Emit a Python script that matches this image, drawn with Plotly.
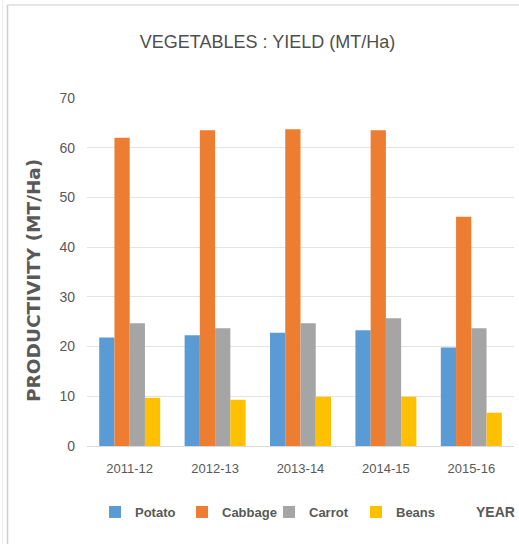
import plotly.graph_objects as go

# Vegetable productivity by season (MT/Ha)
years = ["2011-12", "2012-13", "2013-14", "2014-15", "2015-16"]
potato = [21.8, 22.3, 22.8, 23.3, 19.8]
cabbage = [62.0, 63.5, 63.7, 63.5, 46.1]
carrot = [24.7, 23.7, 24.7, 25.7, 23.7]
beans = [9.7, 9.3, 9.9, 9.9, 6.7]

series_names = ["Potato", "Cabbage", "Carrot", "Beans"]
series_values = [potato, cabbage, carrot, beans]
series_colors = ["#5B9BD5", "#ED7D31", "#A5A5A5", "#FFC000"]

SANS = "Liberation Sans, Arial, sans-serif"
TEXT_GREY = "#595959"

W, H = 519, 544
M_L, M_R, M_T, M_B = 87, 5, 98, 98

fig = go.Figure()
for name, vals, col in zip(series_names, series_values, series_colors):
    fig.add_trace(go.Bar(x=years, y=vals, name=name, marker_color=col,
                         marker_line_width=0))

# helpers to express pixel positions in paper units (frame decoration only)
pw = W - M_L - M_R
ph = H - M_T - M_B
def px_x(x):
    return (x - M_L) / pw
def px_y(y):
    return 1 - (y - M_T) / ph

frame = dict(type="line", xref="paper", yref="paper", layer="below")
fig.add_shape(**frame, x0=px_x(7.5), x1=px_x(7.5), y0=px_y(5), y1=px_y(H),
              line=dict(color="#d0d0d0", width=1.5))
fig.add_shape(**frame, x0=px_x(2.5), x1=px_x(2.5), y0=px_y(0), y1=px_y(H),
              line=dict(color="#ececec", width=1))
fig.add_shape(**frame, x0=px_x(7.5), x1=px_x(W), y0=px_y(5), y1=px_y(5),
              line=dict(color="#dcdcdc", width=1.5))

fig.add_annotation(text="PRODUCTIVITY (MT/Ha)", textangle=-90,
                   xref="paper", yref="paper", x=px_x(33), y=px_y(281),
                   xanchor="center", yanchor="middle", showarrow=False,
                   font=dict(family="DejaVu Sans", size=18.5, color=TEXT_GREY,
                             weight="bold"))
fig.add_annotation(text="<b>YEAR</b>", xref="paper", yref="paper",
                   x=px_x(517), y=px_y(512), xanchor="right", yanchor="middle",
                   showarrow=False,
                   font=dict(family=SANS, size=14, color=TEXT_GREY))

fig.update_layout(
    width=W, height=H,
    margin=dict(l=M_L, r=M_R, t=M_T, b=M_B, autoexpand=False),
    paper_bgcolor="white", plot_bgcolor="white",
    barmode="group", bargap=0.286, bargroupgap=0,
    title=dict(text="VEGETABLES : YIELD (MT/Ha)", xref="container",
               yref="container", x=267.5 / W, y=1 - 42 / H,
               xanchor="center", yanchor="middle",
               font=dict(family=SANS, size=18, color="#4f4f4f")),
    showlegend=True,
    legend=dict(orientation="h", xref="paper", yref="paper",
                x=px_x(95), y=px_y(512), xanchor="left", yanchor="middle",
                font=dict(family=SANS, size=13, color=TEXT_GREY,
                          weight="bold"),
                entrywidthmode="pixels", entrywidth=42,
                itemwidth=30, bgcolor="rgba(0,0,0,0)"),
    xaxis=dict(type="category", showgrid=False, showline=True,
               linecolor="#d9d9d9", linewidth=1, ticks="",
               ticklabelstandoff=10,
               tickfont=dict(family=SANS, size=13, color=TEXT_GREY),
               fixedrange=True),
    yaxis=dict(range=[0, 70], dtick=10, showgrid=True, gridcolor="#e3e3e3",
               gridwidth=1, zeroline=False, showline=False, ticks="",
               ticklabelstandoff=11,
               tickfont=dict(family=SANS, size=14, color=TEXT_GREY),
               fixedrange=True),
)

fig.write_html("out.html")
